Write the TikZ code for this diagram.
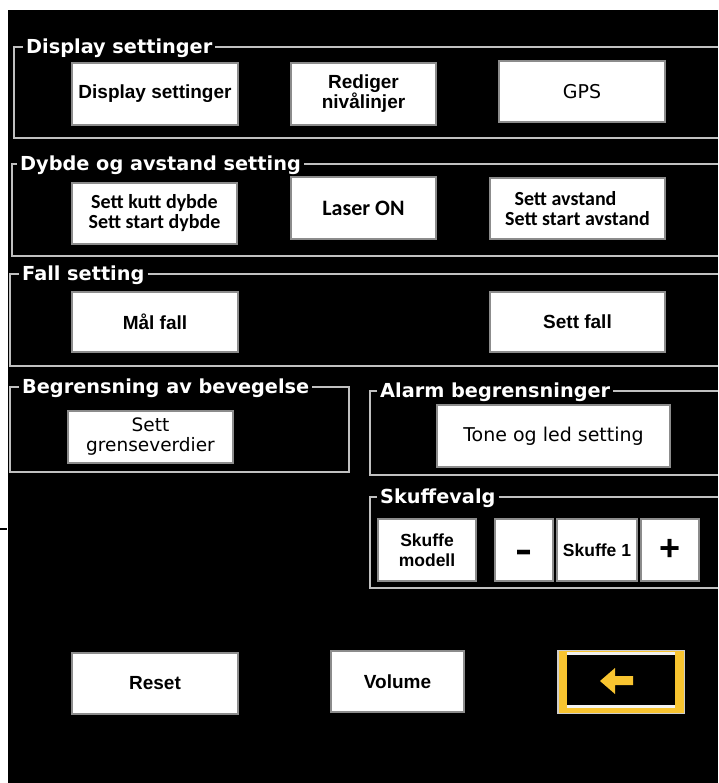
\documentclass[tikz,border=0pt]{standalone}
\usepackage{fontspec}
\setmainfont{Liberation Sans}
\newfontfamily\dvs{DejaVu Sans}
\newfontfamily\carl{Carlito}
\usetikzlibrary{calc}
\definecolor{framegray}{RGB}{192,192,192}
\definecolor{btnedge}{RGB}{140,140,140}
\definecolor{backyel}{RGB}{248,196,48}
\definecolor{backgray}{RGB}{205,205,205}
\newcommand{\myfs}[1]{\fontsize{#1}{20}\selectfont}
\begin{document}
\begin{tikzpicture}[x=1pt,y=-1pt,
  frame/.style={draw=framegray,line width=2pt},
  grp/.style={text=white,font=\dvs\bfseries\myfs{19.3},inner sep=0pt,anchor=base west},
  btn/.style={draw=btnedge,line width=1.5pt,fill=white,text=black,align=center,inner sep=0pt},
  bb/.style={btn,font=\bfseries\myfs{19}},
  bs/.style={btn,font=\bfseries\myfs{17.5}},
  br/.style={btn,font=\dvs\myfs{19}},
  bc/.style={btn,font=\carl\bfseries\myfs{20}},
]
\useasboundingbox (0,0) rectangle (718,783);
\fill[white] (0,0) rectangle (718,783);
\fill[black] (8,10) rectangle (718,783);
\draw[black,line width=1.2pt] (0,529) -- (7,529);

% ---- group 1
\node[grp] (g1) at (26,54) {Display settinger};
\draw[frame] ($(g1.base west)+(-3,-6.5)$) -- (14,47.5) -- (14,138) -- (718,138);
\draw[frame] ($(g1.base east)+(3,-6.5)$) -- (718,47.5);
\node[bb,minimum width=166,minimum height=62] (disp) at (155,94) {Display settinger};
\node[bb,minimum width=145,minimum height=62] (red) at (363.5,94) {Rediger\\nivålinjer};
\node[br,minimum width=166,minimum height=61] (gps) at (582,91.5) {GPS};

% ---- group 2
\node[grp] (g2) at (20,170.5) {Dybde og avstand setting};
\draw[frame] ($(g2.base west)+(-3,-6.5)$) -- (12,164) -- (12,256) -- (718,256);
\draw[frame] ($(g2.base east)+(3,-6.5)$) -- (718,164);
\node[bc,minimum width=165,minimum height=61] (kutt) at (154.5,213.5) {Sett kutt dybde\\Sett start dybde};
\node[bc,font=\carl\bfseries\myfs{22},minimum width=145,minimum height=62] (laser) at (363.5,208) {Laser ON};
\node[bc,minimum width=175,minimum height=61] (avst) at (577.5,208.5) {Sett avstand\hspace*{24pt}\\Sett start avstand};

% ---- group 3
\node[grp] (g3) at (22,280.5) {Fall setting};
\draw[frame] ($(g3.base west)+(-3,-6.5)$) -- (10,274) -- (10,366) -- (718,366);
\draw[frame] ($(g3.base east)+(3,-6.5)$) -- (718,274);
\node[bb,minimum width=166,minimum height=60] (mal) at (155,322) {Mål fall};
\node[bb,minimum width=175,minimum height=60] (settfall) at (577.5,322) {Sett fall};

% ---- group 4
\node[grp] (g4) at (22,393.5) {Begrensning av bevegelse};
\draw[frame] ($(g4.base west)+(-3,-6.5)$) -- (10,387) -- (10,472) -- (349,472) -- (349,387) -- ($(g4.base east)+(3,-6.5)$);
\node[br,font=\dvs\myfs{18.5},minimum width=165,minimum height=52] (grense) at (150.5,437) {Sett\\grenseverdier};

% ---- group 5
\node[grp] (g5) at (380,397.5) {Alarm begrensninger};
\draw[frame] ($(g5.base west)+(-3,-6.5)$) -- (370,391) -- (370,475) -- (718,475);
\draw[frame] ($(g5.base east)+(3,-6.5)$) -- (718,391);
\node[br,minimum width=233,minimum height=62] (tone) at (553.5,436) {Tone og led setting};

% ---- group 6
\node[grp] (g6) at (380,503.5) {Skuffevalg};
\draw[frame] ($(g6.base west)+(-3,-6.5)$) -- (370,497) -- (370,588) -- (718,588);
\draw[frame] ($(g6.base east)+(3,-6.5)$) -- (718,497);
\node[bs,minimum width=98,minimum height=62] (modell) at (427,550) {Skuffe\\modell};
\node[bs,minimum width=58,minimum height=62] (minus) at (524,550) {};
\node[font=\bfseries\fontsize{32}{32}\selectfont,inner sep=0pt] (minustxt) at (524,556) {\scalebox{1.6}[1.2]{-}};
\node[bs,minimum width=80,minimum height=62] (sk1) at (597,550) {Skuffe 1};
\node[bs,font=\bfseries\fontsize{36}{36}\selectfont,minimum width=58,minimum height=62] (plus) at (670,550) {+};

% ---- bottom row
\node[bb,minimum width=166,minimum height=61] (reset) at (155,683.5) {Reset};
\node[bb,minimum width=133,minimum height=61] (vol) at (397.5,681.5) {Volume};
\node[fill=backgray,minimum width=128,minimum height=64,inner sep=0pt] (back) at (621,682) {};
\fill[backyel] (558.5,651) rectangle (683.5,713);
\fill[white!88!gray] (567,651.5) rectangle (675,655);
\fill[black] (567,655) rectangle (675,705);
\fill[white!90!gray] (567,705) rectangle (675,708);
\fill[backyel] (600,681) -- (615,668) -- (615,676) -- (633,676) -- (633,685) -- (615,685) -- (615,694) -- cycle;
\end{tikzpicture}
\end{document}
